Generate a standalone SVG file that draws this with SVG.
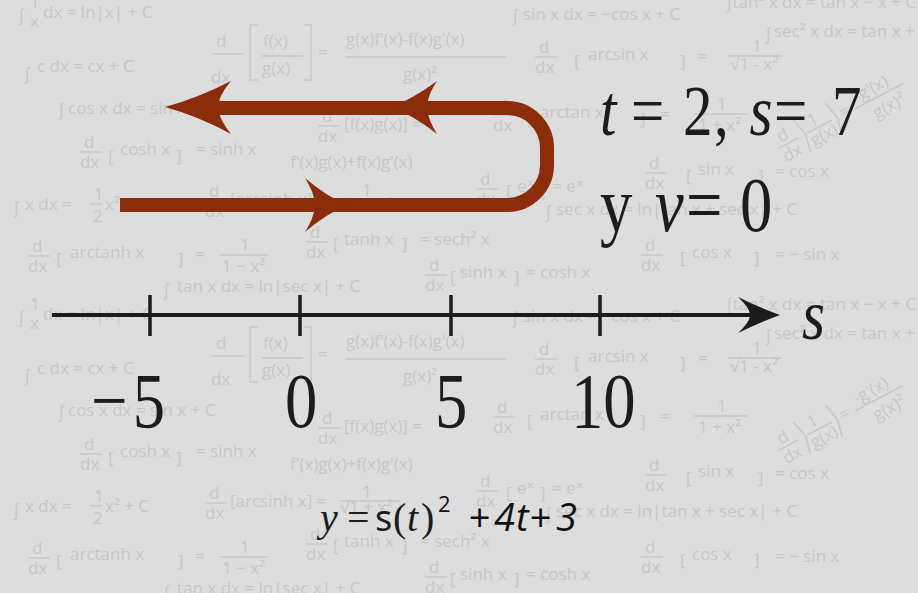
<svg xmlns="http://www.w3.org/2000/svg" xmlns:xlink="http://www.w3.org/1999/xlink" width="918" height="593" viewBox="0 0 918 593">
<style>
.bg text{font-family:"Open Sans","DejaVu Sans",sans-serif;fill:#c7c7c7;font-size:17px}
.bg line,.bg path.b{stroke:#c7c7c7;stroke-width:1.4;fill:none}
.serif{font-family:"Liberation Serif","Times New Roman",serif;fill:#1c1c1c}
.loop{fill:none;stroke:#8b2d0a;stroke-width:14}
.head{fill:#8b2d0a}
.axis{stroke:#1c1c1c;stroke-width:4;fill:none}
.tick{stroke:#1c1c1c;stroke-width:3.5}
</style>
<defs>
<g id="ddx" class="bg"><text x="4" y="-6" font-size="16">d</text><line x1="0" y1="-2" x2="22" y2="-2"/><text x="0" y="14" font-size="16">dx</text></g>
<g id="tile" class="bg">
 <text x="18" y="21" font-size="22">∫</text><text x="30" y="8" font-size="9">1</text><text x="30" y="27" font-size="11">x</text><text x="43" y="18">dx  = ln|x| + C</text>
 <text x="24" y="80" font-size="28">∫</text><text x="37" y="72" font-size="18">c dx  =  cx + C</text>
 <text x="216" y="47" font-size="36">d</text><line x1="212" y1="54" x2="244" y2="54"/><text x="211" y="83" font-size="34">dx</text>
 <path class="b" d="M258,25 H250 V80 H258 M304,25 H311 V80 H304"/>
 <text x="263" y="47" font-size="22">f(x)</text><line x1="262" y1="56" x2="303" y2="56"/><text x="262" y="74" font-size="22">g(x)</text>
 <text x="318" y="58" font-size="22">=</text>
 <text x="346" y="45" font-size="18">g(x)f'(x)-f(x)g'(x)</text><line x1="346" y1="57" x2="506" y2="57"/><text x="403" y="80" font-size="22">g(x)²</text>
 <text x="58" y="116" font-size="22">∫</text><text x="68" y="114">cos x dx  =  sin x + C</text>
 <use xlink:href="#ddx" x="80" y="154"/><text x="108" y="162" font-size="28">[</text><text x="120" y="155">cosh x</text><text x="176" y="162" font-size="28">]</text><text x="196" y="155">=  sinh x</text>
 <use xlink:href="#ddx" x="318" y="128"/><text x="344" y="130" font-size="19">[f(x)g(x)]  =</text>
 <text x="290" y="168" font-size="21">f'(x)g(x)+f(x)g'(x)</text>
 <text x="13" y="214" font-size="22">∫</text><text x="25" y="210">x dx  =</text><text x="94" y="200" font-size="11">1</text><line x1="90" y1="204" x2="102" y2="204"/><text x="93" y="222" font-size="12">2</text><text x="105" y="210">x² + C</text>
 <use xlink:href="#ddx" x="205" y="203"/><text x="230" y="205" font-size="15">[arcsinh x] =</text><text x="362" y="196" font-size="10">1</text><line x1="340" y1="199" x2="400" y2="199"/><text x="340" y="211" font-size="11">√1 + x²</text>
 <use xlink:href="#ddx" x="28" y="258"/><text x="56" y="265" font-size="28">[</text><text x="70" y="258" font-size="19">arctanh  x</text><text x="178" y="265" font-size="28">]</text><text x="195" y="260" font-size="19">=</text><text x="240" y="251" font-size="12">1</text><line x1="220" y1="255" x2="268" y2="255"/><text x="222" y="272" font-size="13">1 − x²</text>
 <use xlink:href="#ddx" x="306" y="244"/><text x="333" y="250" font-size="26">[</text><text x="344" y="245">tanh x</text><text x="402" y="250" font-size="26">]</text><text x="420" y="245">=  sech² x</text>
 <text x="163" y="296" font-size="24">∫</text><text x="177" y="292" font-size="18">tan x dx  =  ln|sec x| + C</text>
 <use xlink:href="#ddx" x="425" y="277"/><text x="450" y="283" font-size="26">[</text><text x="460" y="278">sinh x</text><text x="514" y="283" font-size="26">]</text><text x="526" y="278">=  cosh x</text>
 <text x="512" y="22" font-size="22">∫</text><text x="523" y="20">sin x dx  =  −cos x + C</text>
 <text x="726" y="8" font-size="15">∫tan² x dx = tan x − x + C</text>
 <text x="765" y="40" font-size="20">∫</text><text x="774" y="37" font-size="15">sec² x dx = tan x + C</text>
 <use xlink:href="#ddx" x="535" y="59"/><text x="574" y="67" font-size="30">[</text><text x="588" y="60">arcsin  x</text><text x="680" y="67" font-size="30">]</text><text x="698" y="62">=</text><text x="752" y="52" font-size="11">1</text><line x1="728" y1="56" x2="782" y2="56"/><text x="730" y="70" font-size="12">√1 - x²</text>
 <g transform="translate(780,150) rotate(-28)"><use xlink:href="#ddx" x="0" y="0"/><path class="b" d="M26,-20 L30,-2 L26,16 M62,-20 L66,-2 L62,16"/><text x="38" y="-6" font-size="14">1</text><line x1="32" y1="-2" x2="60" y2="-2"/><text x="32" y="13" font-size="14">g(x)</text><text x="70" y="2" font-size="16">=</text><text x="90" y="-6" font-size="15">-g'(x)</text><line x1="86" y1="-1" x2="140" y2="-1"/><text x="100" y="18" font-size="16">g(x)²</text></g>
 <use xlink:href="#ddx" x="493" y="117"/><text x="527" y="125" font-size="28">[</text><text x="540" y="118">arctan  x</text><text x="640" y="125" font-size="28">]</text><text x="660" y="120">=</text><text x="717" y="110" font-size="11">1</text><line x1="694" y1="114" x2="748" y2="114"/><text x="698" y="131" font-size="12">1 + x²</text>
 <use xlink:href="#ddx" x="645" y="175"/><text x="686" y="182" font-size="28">[</text><text x="698" y="175">sin x</text><text x="758" y="182" font-size="28">]</text><text x="775" y="177">=  cos x</text>
 <use xlink:href="#ddx" x="476" y="191"/><text x="506" y="197" font-size="26">[</text><text x="517" y="192">eˣ</text><text x="540" y="197" font-size="26">]</text><text x="552" y="192">=  eˣ</text>
 <text x="545" y="218" font-size="22">∫</text><text x="556" y="215">sec x dx  =  ln|tan x + sec x| + C</text>
 <use xlink:href="#ddx" x="641" y="257"/><text x="680" y="264" font-size="28">[</text><text x="692" y="258">cos x</text><text x="754" y="264" font-size="28">]</text><text x="775" y="260">=  − sin x</text>
</g>
</defs>
<rect width="918" height="593" fill="#dddddd"/>
<g id="background">
<use xlink:href="#tile"/>
<use xlink:href="#tile" y="302"/>
</g>
<g id="path-loop">
<path class="loop" d="M120,205 H507 A40,40 0 0 0 547,165 V148 A40,40 0 0 0 507,108 H200"/>
<path class="head" d="M165,107 Q198,98 231,81 Q217,98 219,107 Q217,116 231,134 Q198,116 165,107Z"/>
<path class="head" d="M392,107 Q414,98 437,81 Q426,98 428,107 Q426,116 437,134 Q414,116 392,107Z"/>
<path class="head" d="M347,205 Q326,196 305,178 Q316,196 314,205 Q316,214 305,232 Q326,214 347,205Z"/>
</g>
<g id="conditions">
<text class="serif" font-size="72" transform="scale(0.82,1)" y="135"><tspan font-style="italic" x="731.7">t</tspan><tspan x="769.5">=</tspan><tspan x="833">2</tspan><tspan x="870.7">,</tspan><tspan font-style="italic" x="914">s</tspan><tspan x="944">=</tspan><tspan x="1014.6">7</tspan></text>
<text class="serif" font-size="79" transform="scale(0.82,1)" y="231"><tspan x="731.7">y</tspan><tspan font-style="italic" x="798.8">v</tspan><tspan x="836.6">=</tspan><tspan x="902.4">0</tspan></text>
</g>
<g id="axis">
<line class="axis" x1="52" y1="315" x2="755" y2="315"/>
<path fill="#1c1c1c" d="M780,315 Q758,307 738,297 Q750,308 750,315 Q750,322 738,333 Q758,323 780,315Z"/>
<line class="tick" x1="150" y1="295" x2="150" y2="336"/>
<line class="tick" x1="300" y1="295" x2="300" y2="336"/>
<line class="tick" x1="451" y1="295" x2="451" y2="336"/>
<line class="tick" x1="600" y1="295" x2="600" y2="336"/>
<text class="serif" font-style="italic" font-size="72" transform="scale(0.82,1)" x="978" y="339">s</text>
<g class="serif" font-size="79" transform="scale(0.82,1)">
<text x="111 162" y="427">−5</text>
<text x="347.6" y="427">0</text>
<text x="530.5" y="427">5</text>
<text x="696.3" y="427">10</text>
</g>
</g>
<g id="equation" fill="#111">
<text class="serif" y="531" fill="#111"><tspan font-style="italic" font-size="40" x="320">y</tspan><tspan x="347" font-size="40">=</tspan><tspan x="375" font-family="Noto Sans, sans-serif" font-size="36">s</tspan><tspan x="393" font-size="40">(</tspan><tspan font-style="italic" font-size="40" x="407">t</tspan><tspan x="421" font-size="40">)</tspan></text>
<text x="438" y="512" font-size="22" font-family="Open Sans, sans-serif">2</text>
<text y="531" font-size="38" font-style="italic" font-family="Open Sans, sans-serif"><tspan x="468">+</tspan><tspan x="494">4</tspan><tspan x="516">t</tspan><tspan x="529">+</tspan><tspan x="556">3</tspan></text>
</g>
</svg>
